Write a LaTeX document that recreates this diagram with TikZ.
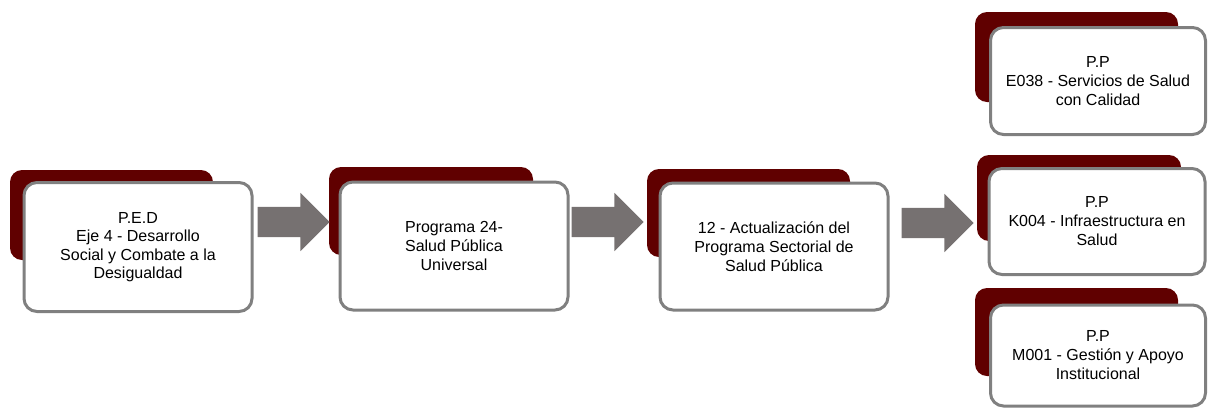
\documentclass[tikz,border=0pt]{standalone}
\usepackage{fontspec}
\setmainfont{Liberation Sans}
\usetikzlibrary{shapes.arrows}
\definecolor{darkred}{RGB}{96,0,0}
\definecolor{framegray}{RGB}{128,128,128}
\definecolor{arrowgray}{RGB}{118,113,113}
\tikzset{
  back/.style={fill=darkred, rounded corners=12pt, inner sep=0pt},
  front/.style={fill=white, draw=framegray, line width=3pt, rounded corners=13pt,
    inner sep=0pt, align=center, font=\fontsize{16}{19}\selectfont},
  blockarrow/.style={single arrow, fill=arrowgray, inner xsep=0pt, inner ysep=15pt,
    minimum height=72pt, minimum width=58pt,
    single arrow head extend=14pt, single arrow tip angle=90},
}
\begin{document}
\begin{tikzpicture}[x=1pt, y=-1pt]
        \useasboundingbox (0,0) rectangle (1208,408);
        % Define the nodes
        \node[back, minimum width=203pt, minimum height=90pt] (pedbg) at (111.5,215) {};
        \node[front, minimum width=228pt, minimum height=129pt,
          font=\fontsize{16}{18.4}\selectfont] (ped) at (138,247)
          {P.E.D\\Eje 4 - Desarrollo\\Social y Combate a la\\Desigualdad};

        \node[back, minimum width=204pt, minimum height=88pt] (progbg) at (431,211) {};
        \node[front, minimum width=228pt, minimum height=128pt] (prog) at (454,246)
          {Programa 24-\\Salud Pública\\Universal};

        \node[back, minimum width=203pt, minimum height=88pt] (actbg) at (748.5,213) {};
        \node[front, minimum width=228pt, minimum height=127pt] (act) at (774,246.5)
          {12 - Actualización del\\Programa Sectorial de\\Salud Pública};

        \node[back, minimum width=203pt, minimum height=90pt] (ebg) at (1076.5,57) {};
        \node[front, minimum width=215pt, minimum height=107pt] (e038) at (1098,81)
          {P.P\\E038 - Servicios de Salud\\con Calidad};

        \node[back, minimum width=204pt, minimum height=86pt] (kbg) at (1079,198) {};
        \node[front, minimum width=216pt, minimum height=106pt] (k004) at (1097,221.5)
          {P.P\\K004 - Infraestructura en\\Salud};

        \node[back, minimum width=203pt, minimum height=88pt] (mbg) at (1076.5,332) {};
        \node[front, minimum width=215pt, minimum height=101pt] (m001) at (1098,355.5)
          {P.P\\M001 - Gestión y Apoyo\\Institucional};

        % Draw the edges
        \node[blockarrow] (a1) at (286,222) {};
        \node[blockarrow] (a2) at (600,222) {};
        \node[blockarrow] (a3) at (930,223) {};
    \end{tikzpicture}
\end{document}
